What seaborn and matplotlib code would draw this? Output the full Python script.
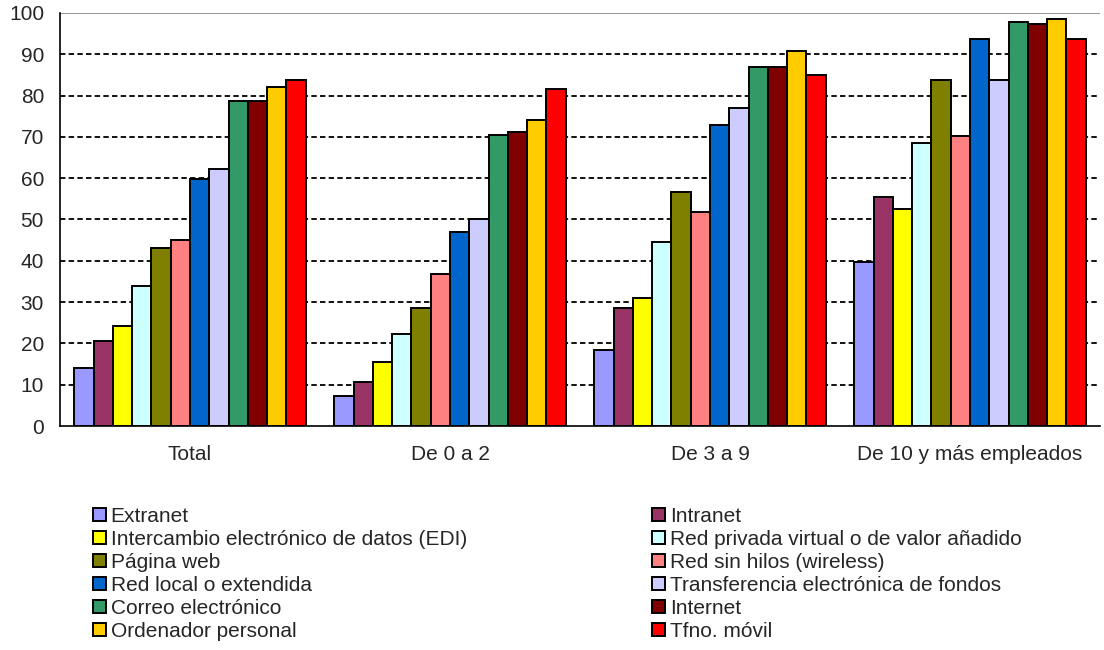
import matplotlib
matplotlib.use("Agg")
import matplotlib.pyplot as plt
import seaborn as sns
import pandas as pd
import numpy as np

groups = ["Total", "De 0 a 2", "De 3 a 9", "De 10 y más empleados"]
series = ["Extranet", "Intranet", "Intercambio electrónico de datos (EDI)",
          "Red privada virtual o de valor añadido", "Página web",
          "Red sin hilos (wireless)", "Red local o extendida",
          "Transferencia electrónica de fondos", "Correo electrónico",
          "Internet", "Ordenador personal", "Tfno. móvil"]
colors = ["#9999FF", "#993366", "#FFFF00", "#CCFFFF", "#808000", "#FF8080",
          "#0066CC", "#CCCCFF", "#339966", "#800000", "#FFCC00", "#FF0000"]

v_total = [14.0, 20.7, 24.2, 33.9, 43.0, 45.0, 59.9, 62.3, 78.7, 78.7, 82.2, 83.7]
v_0a2 = [7.2, 10.6, 15.4, 22.3, 28.5, 36.7, 46.9, 50.2, 70.5, 71.1, 74.0, 81.7]
v_3a9 = [18.4, 28.5, 30.9, 44.5, 56.6, 51.7, 73.0, 76.9, 87.0, 87.0, 90.9, 85.1]
v_10 = [39.6, 55.5, 52.6, 68.6, 83.7, 70.2, 93.8, 83.7, 97.7, 97.3, 98.6, 93.8]

yticks = list(range(0, 101, 10))

rows = []
for g, vals in zip(groups, [v_total, v_0a2, v_3a9, v_10]):
    for s, v in zip(series, vals):
        rows.append({"grupo": g, "serie": s, "valor": v})
df = pd.DataFrame(rows)

sns.set_style("white")
plt.rcParams["font.family"] = ["Liberation Sans", "DejaVu Sans"]

fig = plt.figure(figsize=(11.04, 6.5), dpi=100)
ax = fig.add_axes([60/1104, 1-426/650, 1040/1104, 413/650])

sns.barplot(data=df, x="grupo", y="valor", hue="serie", order=groups,
            hue_order=series, palette=colors, width=0.89, ax=ax,
            edgecolor="black", linewidth=1.4, saturation=1, legend=True, errorbar=None)

ax.set_ylim(0, 100)
ax.set_xlim(-0.5, 3.5)
ax.set_yticks(yticks)
ax.set_yticklabels([str(t) for t in yticks], fontsize=15)
ax.set_xlabel("")
ax.set_ylabel("")
ax.tick_params(axis="x", length=0, pad=13.5, labelsize=15)
ax.set_xticks([-0.5, 0.5, 1.5, 2.5, 3.5], minor=True)
ax.tick_params(axis="x", which="minor", length=5, width=1, color="black", direction="out")
ax.tick_params(axis="y", length=5, width=1, color="black", direction="out", pad=6.5)

for y in yticks[1:-1]:
    ax.axhline(y, color="black", linestyle=(0, (3, 1.8)), linewidth=1.3, zorder=0)
ax.axhline(100, color="#999999", linewidth=1.5, zorder=0)
ax.set_axisbelow(True)
for side in ["right", "top"]:
    ax.spines[side].set_visible(False)
for side in ["left", "bottom"]:
    ax.spines[side].set_color("black")
    ax.spines[side].set_linewidth(1.2)

handles, labels = ax.get_legend_handles_labels()
ax.get_legend().remove()
col1 = list(range(0, 12, 2))
col2 = list(range(1, 12, 2))
common = dict(frameon=False, fontsize=15, handlelength=0.6, handleheight=0.6,
              handletextpad=0.25, labelspacing=0.19, borderpad=0, borderaxespad=0,
              loc="upper left")
fig.legend([handles[i] for i in col1], [labels[i] for i in col1],
           bbox_to_anchor=(93/1104, 1-507/650), **common)
fig.legend([handles[i] for i in col2], [labels[i] for i in col2],
           bbox_to_anchor=(652/1104, 1-507/650), **common)

fig.savefig("out.png", dpi=100)
